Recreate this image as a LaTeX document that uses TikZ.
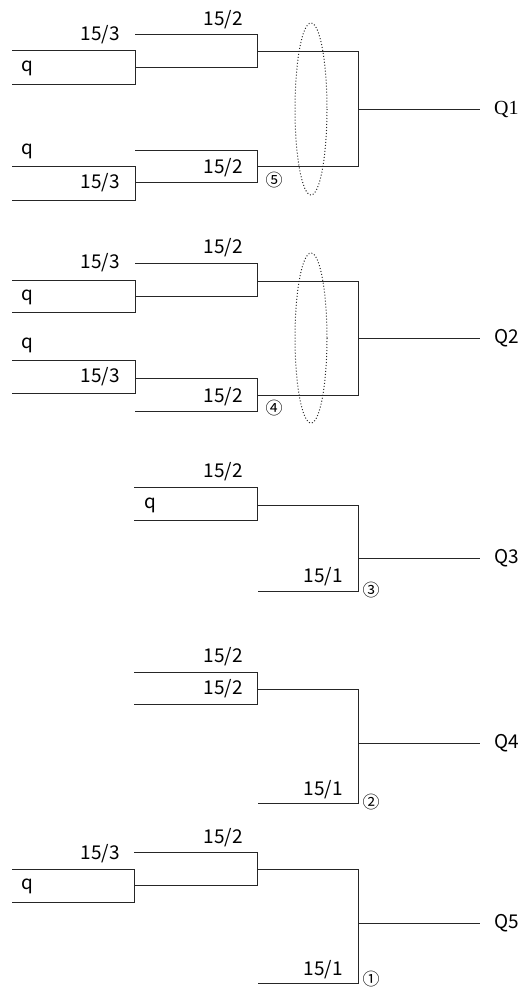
\documentclass[tikz,border=0pt]{standalone}
\usepackage{fontspec}
\setmainfont{Noto Sans CJK JP}
\newfontfamily\qserif{Liberation Serif}
\usepackage{tikz}
\usetikzlibrary{calc}

\tikzset{
  linea/.style={line width=1pt,color=black!85},
  etiq/.style={font=\fontsize{19}{20}\selectfont,inner sep=1pt},
  marca/.style={font=\fontsize{17}{18}\selectfont,inner sep=0pt},
  salida/.style={font=\fontsize{19}{20}\selectfont,anchor=west,inner xsep=14pt,inner ysep=1pt},
  lazo/.style={dotted,line width=1pt,color=black!85}
}

\begin{document}
\begin{tikzpicture}[x=1pt,y=-1pt]
  \useasboundingbox (0,0) rectangle (523,990);

  % Q1
  \draw[linea] (135,35) -- (257,35) -- (257,68) -- (135,68);
  \draw[linea] (12,51) -- (135,51) -- (135,84) -- (12,84);
  \draw[linea] (135,150) -- (257,150) -- (257,182) -- (135,182);
  \draw[linea] (12,166) -- (135,166) -- (135,200) -- (12,200);
  \draw[linea] (257,52) -- (358,52) -- (358,166) -- (257,166);
  \coordinate (j1) at (358,109);
  \node[salida,font=\fontsize{20}{21}\qserif] (Q1) at (480,109) {Q1};
  \draw[linea] (j1) -- (Q1.west);
  \node[etiq,anchor=east] (a1) at (121,35) {15/3};
  \node[etiq,anchor=east] (b1) at (244,20) {15/2};
  \node[etiq,anchor=west] (c1) at (20,68) {q};
  \node[etiq,anchor=west] (d1) at (20,151) {q};
  \node[etiq,anchor=east] (e1) at (121,183) {15/3};
  \node[etiq,anchor=east] (f1) at (244,168) {15/2};
  \node[marca] (m5) at (274,180) {⑤};
  \draw[lazo] (311,109) ellipse [x radius=16,y radius=86];

  % Q2
  \draw[linea] (135,263) -- (257,263) -- (257,296) -- (135,296);
  \draw[linea] (12,280) -- (135,280) -- (135,312) -- (12,312);
  \draw[linea] (135,378) -- (257,378) -- (257,411) -- (135,411);
  \draw[linea] (12,360) -- (135,360) -- (135,393) -- (12,393);
  \draw[linea] (257,281) -- (358,281) -- (358,395) -- (257,395);
  \coordinate (j2) at (358,338);
  \node[salida] (Q2) at (480,338) {Q2};
  \draw[linea] (j2) -- (Q2.west);
  \node[etiq,anchor=east] (a2) at (121,263) {15/3};
  \node[etiq,anchor=east] (b2) at (244,248) {15/2};
  \node[etiq,anchor=west] (c2) at (20,297) {q};
  \node[etiq,anchor=west] (d2) at (20,345) {q};
  \node[etiq,anchor=east] (e2) at (121,377) {15/3};
  \node[etiq,anchor=east] (f2) at (244,397) {15/2};
  \node[marca] (m4) at (274,408) {④};
  \draw[lazo] (311,338) ellipse [x radius=16,y radius=85];

  % Q3
  \draw[linea] (134,487) -- (257,487) -- (257,520) -- (134,520);
  \draw[linea] (257,505) -- (358,505) -- (358,591) -- (258,591);
  \coordinate (j3) at (358,558);
  \node[salida] (Q3) at (480,558) {Q3};
  \draw[linea] (j3) -- (Q3.west);
  \node[etiq,anchor=east] (b3) at (244,472) {15/2};
  \node[etiq,anchor=west] (c3) at (143,505) {q};
  \node[etiq,anchor=east] (g3) at (344,577) {15/1};
  \node[marca] (m3) at (371,590) {③};

  % Q4
  \draw[linea] (134,672) -- (257,672) -- (257,704) -- (134,704);
  \draw[linea] (257,689) -- (358,689) -- (358,803) -- (258,803);
  \coordinate (j4) at (358,743);
  \node[salida] (Q4) at (480,743) {Q4};
  \draw[linea] (j4) -- (Q4.west);
  \node[etiq,anchor=east] (b4) at (244,657) {15/2};
  \node[etiq,anchor=east] (h4) at (244,689) {15/2};
  \node[etiq,anchor=east] (g4) at (344,790) {15/1};
  \node[marca] (m2) at (371,802) {②};

  % Q5
  \draw[linea] (134,852) -- (257,852) -- (257,885) -- (134,885);
  \draw[linea] (12,869) -- (134,869) -- (134,902) -- (12,902);
  \draw[linea] (257,869) -- (358,869) -- (358,983) -- (258,983);
  \coordinate (j5) at (358,923);
  \node[salida] (Q5) at (480,923) {Q5};
  \draw[linea] (j5) -- (Q5.west);
  \node[etiq,anchor=east] (a5) at (121,854) {15/3};
  \node[etiq,anchor=east] (b5) at (244,838) {15/2};
  \node[etiq,anchor=west] (c5) at (20,886) {q};
  \node[etiq,anchor=east] (g5) at (344,970) {15/1};
  \node[marca] (m1) at (371,979) {①};
\end{tikzpicture}
\end{document}
